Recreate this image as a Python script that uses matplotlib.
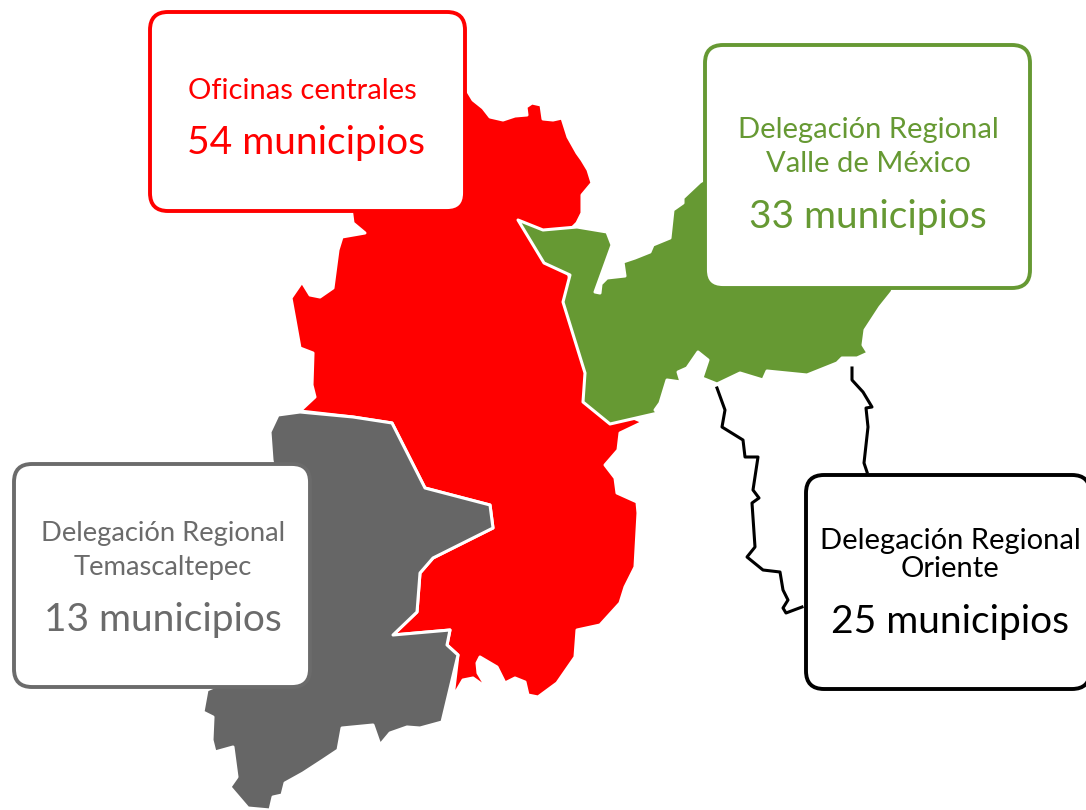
#!/usr/bin/env python

import matplotlib.pyplot as plt
from matplotlib.patches import FancyBboxPatch, Polygon

plt.rcParams["font.family"] = ["Lato", "DejaVu Sans"]

# Outlines, in image pixels
red_region = [
    (465, 80), (467, 90), (473, 100), (483, 108), (490, 117), (503, 120), (515, 116), (527, 115),
    (526, 107), (532, 103), (541, 105), (543, 119), (553, 120), (562, 118), (568, 137), (577, 153),
    (582, 160), (588, 170), (592, 183), (582, 195), (582, 213), (577, 223), (560, 240), (575, 300),
    (590, 400), (643, 422), (620, 433), (618, 450), (605, 465), (615, 478), (617, 493), (637, 502),
    (638, 513), (635, 567), (625, 587), (620, 603), (600, 625), (577, 630), (575, 657), (557, 683),
    (538, 697), (528, 695), (525, 682), (515, 678), (505, 683), (497, 667), (480, 657), (477, 663),
    (478, 673), (487, 688), (473, 678), (463, 680), (453, 697), (458, 655), (447, 645), (450, 630),
    (393, 635), (417, 612), (420, 573), (433, 558), (493, 528), (490, 505), (425, 488), (392, 423),
    (353, 417), (300, 411), (315, 397), (312, 385), (313, 353), (300, 348), (295, 320), (291, 298),
    (302, 282), (310, 295), (320, 297), (333, 288), (338, 250), (342, 237), (365, 233), (353, 223),
    (350, 200), (400, 100),
]
green_region = [
    (518, 220), (543, 230), (577, 227), (607, 232), (612, 245), (595, 292), (600, 293), (601, 284),
    (607, 278), (625, 276), (623, 262), (635, 258), (650, 252), (653, 245), (670, 238), (673, 210),
    (683, 203), (683, 198), (700, 182), (720, 170), (900, 270), (892, 292), (880, 307), (865, 330),
    (863, 345), (868, 353), (857, 358), (842, 358), (837, 363), (807, 375), (767, 371), (763, 380),
    (740, 373), (717, 384), (702, 378), (708, 360), (698, 352), (687, 368), (678, 372), (681, 382),
    (667, 380), (660, 403), (655, 410), (658, 413), (610, 424), (583, 402), (585, 373), (563, 302),
    (570, 275), (544, 263),
]
gray_region = [
    (278, 415), (270, 432), (272, 460), (280, 500), (230, 680), (207, 690), (203, 712), (213, 717),
    (212, 740), (215, 752), (233, 747), (237, 777), (230, 787), (248, 808), (270, 810), (273, 797),
    (282, 795), (285, 783), (303, 773), (323, 760), (338, 750), (342, 728), (373, 725), (380, 745),
    (390, 733), (407, 727), (420, 728), (442, 722), (458, 655), (447, 645), (450, 630), (393, 635),
    (417, 612), (420, 573), (433, 558), (493, 528), (490, 505), (425, 488), (392, 423), (353, 417),
    (300, 412),
]
oriente_left = [
    (717, 388), (725, 410), (722, 427), (743, 440), (745, 457), (758, 457), (753, 490), (759, 498),
    (752, 503), (755, 547), (747, 557), (763, 570), (780, 572), (783, 590), (788, 600), (783, 608),
    (786, 613), (802, 607),
]
oriente_right = [
    (852, 368), (852, 380), (863, 392), (872, 407), (866, 408), (868, 427), (864, 463), (867, 472),
]

red = "#ff0000"
green = "#669933"
gray = "#666666"
box_gray = "#6b6b6b"
black = "#000000"

# x0, y0, x1, y1 of every label box
box_red = (150, 12, 465, 211)
box_green = (705, 45, 1030, 288)
box_grey = (14, 464, 310, 687)
box_black = (806, 475, 1090, 689)

fig = plt.figure(figsize=(10.86, 8.1), dpi=100)
ax = fig.add_axes([0, 0, 1, 1])
ax.set_xlim(0, 1086)
ax.set_ylim(810, 0)
ax.axis("off")

for outline, color, order in [(red_region, red, 1), (green_region, green, 2), (gray_region, gray, 2)]:
    ax.add_patch(
        Polygon(
            outline,
            closed=True,
            facecolor=color,
            edgecolor="white",
            linewidth=2.2,
            joinstyle="round",
            zorder=order,
        )
    )

for line in [oriente_left, oriente_right]:
    ax.plot([p[0] for p in line], [p[1] for p in line], color=black, linewidth=2.2, zorder=3)

for (x0, y0, x1, y1), color in [
    (box_red, red),
    (box_green, green),
    (box_grey, box_gray),
    (box_black, black),
]:
    rounding = 18
    ax.add_patch(
        FancyBboxPatch(
            (x0 + rounding, y0 + rounding),
            x1 - x0 - 2 * rounding,
            y1 - y0 - 2 * rounding,
            boxstyle=f"round,pad={rounding},rounding_size={rounding}",
            facecolor="white",
            edgecolor=color,
            linewidth=2.8,
            zorder=4,
        )
    )

labels = [
    (302, 91, "Oficinas centrales", red, 21),
    (306, 143, "54 municipios", red, 28),
    (868, 130, "Delegación Regional", green, 21),
    (868, 164, "Valle de México", green, 21),
    (868, 217, "33 municipios", green, 28),
    (163, 533, "Delegación Regional", box_gray, 19.7),
    (163, 568, "Temascaltepec", box_gray, 19.7),
    (163, 620, "13 municipios", box_gray, 28),
    (950, 541, "Delegación Regional", black, 21),
    (950, 569, "Oriente", black, 21),
    (950, 622, "25 municipios", black, 28),
]
for x, y, text, color, size in labels:
    ax.text(x, y, text, color=color, fontsize=size, ha="center", va="center", zorder=5)

plt.savefig("out.png", dpi=100)
plt.close()
